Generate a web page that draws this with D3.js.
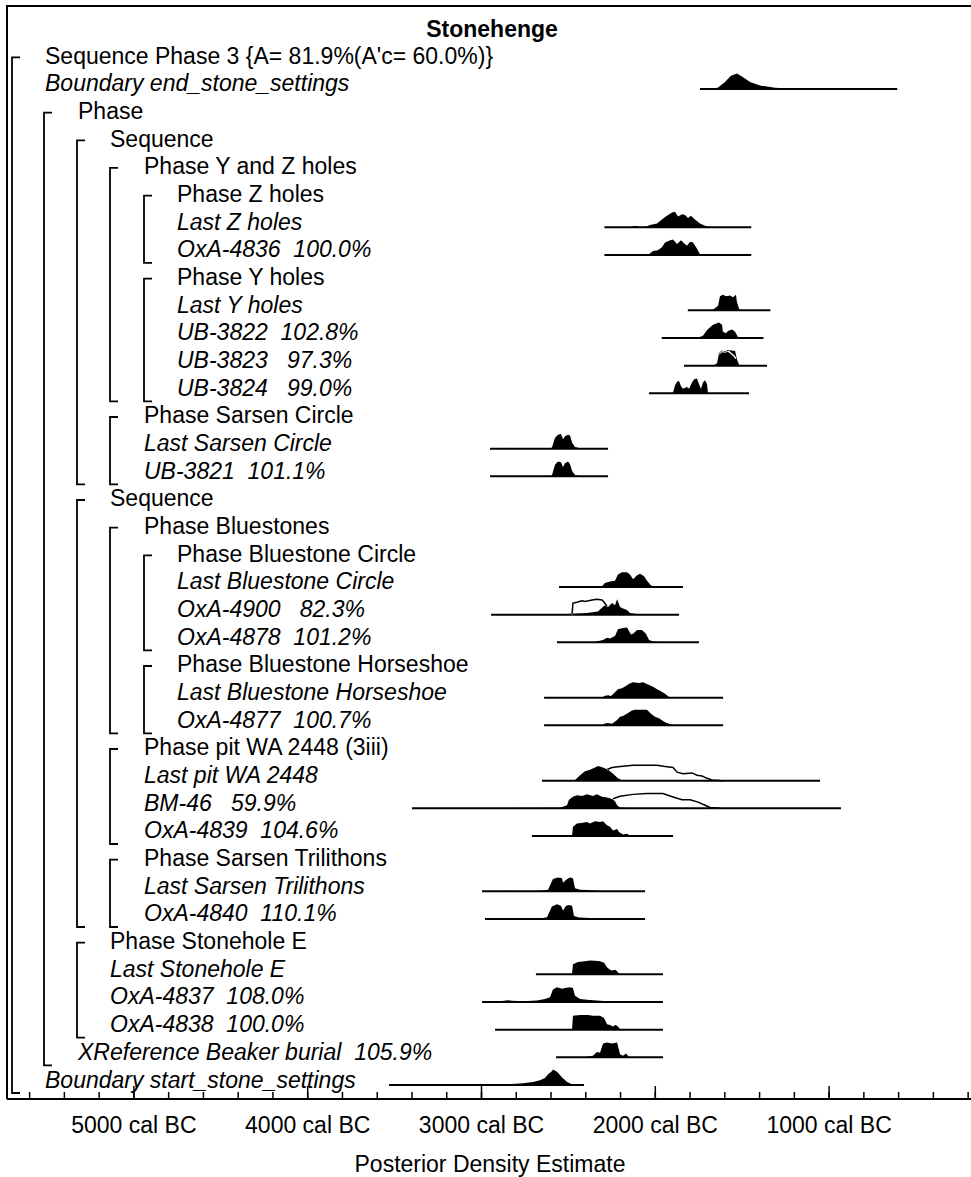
<!DOCTYPE html>
<html>
<head>
<meta charset="utf-8">
<script src="https://cdn.jsdelivr.net/npm/d3@7"></script>
<style>
  body { margin: 0; background: #fff; }
  text { font-family: "Liberation Sans", Arial, sans-serif; fill: #000; }
</style>
</head>
<body>
<div id="chart"></div>
<script>
// row labels, top to bottom
const rowLabels = [
  "Sequence Phase 3 {A= 81.9%(A'c= 60.0%)}",
  "Boundary end_stone_settings",
  "Phase",
  "Sequence",
  "Phase Y and Z holes",
  "Phase Z holes",
  "Last Z holes",
  "OxA-4836  100.0%",
  "Phase Y holes",
  "Last Y holes",
  "UB-3822  102.8%",
  "UB-3823   97.3%",
  "UB-3824   99.0%",
  "Phase Sarsen Circle",
  "Last Sarsen Circle",
  "UB-3821  101.1%",
  "Sequence",
  "Phase Bluestones",
  "Phase Bluestone Circle",
  "Last Bluestone Circle",
  "OxA-4900   82.3%",
  "OxA-4878  101.2%",
  "Phase Bluestone Horseshoe",
  "Last Bluestone Horseshoe",
  "OxA-4877  100.7%",
  "Phase pit WA 2448 (3iii)",
  "Last pit WA 2448",
  "BM-46   59.9%",
  "OxA-4839  104.6%",
  "Phase Sarsen Trilithons",
  "Last Sarsen Trilithons",
  "OxA-4840  110.1%",
  "Phase Stonehole E",
  "Last Stonehole E",
  "OxA-4837  108.0%",
  "OxA-4838  100.0%",
  "XReference Beaker burial  105.9%",
  "Boundary start_stone_settings"
];
const rowDepth = [0,0,1,2,3,4,4,4,4,4,4,4,4,3,3,3,2,3,4,4,4,4,4,4,4,3,3,3,3,3,3,3,2,2,2,2,1,0];
const headerRows = [0,2,3,4,5,8,13,16,17,18,22,25,29,32];

// [depth, first row, last row]
const brackets = [
  [0,0,37],[1,2,36],[2,3,15],[3,4,12],[4,5,7],[4,8,12],[3,13,15],
  [2,16,31],[3,17,24],[4,18,21],[4,22,24],[3,25,28],[3,29,31],[2,32,35]
];

// distributions: row, range (cal BC), posterior [cal BC, rel. density]
const distRows = [1,6,7,9,10,11,12,14,15,19,20,21,23,24,26,27,28,30,31,33,34,35,36,37];
const distRanges = [
  [1740,605],[2290,1445],[2290,1445],[1810,1335],[1960,1375],[1832,1354],[2033,1458],
  [2948,2269],[2948,2269],[2551,1838],[2942,1861],[2563,1746],[2637,1607],[2637,1607],
  [2649,1049],[3397,929],[2707,1895],[2994,2056],[2977,2056],[2684,1953],[2994,1953],
  [2919,1953],[2568,1953],[3529,2407]
];
const posteriors = [
  [[1671,0],[1636,0.1],[1596,0.45],[1562,0.85],[1527,1],[1498,0.8],[1452,0.45],[1395,0.22],[1308,0.08],[1222,0.03],[1136,0.01],[1000,0]],
  [[2131,0],[2125,0.08],[2097,0.08],[2091,0],[2051,0.03],[2028,0.15],[1987,0.25],[1959,0.5],[1930,0.75],[1901,0.95],[1884,1],[1866,0.7],[1843,0.85],[1826,0.8],[1809,0.6],[1792,0.75],[1769,0.5],[1740,0.25],[1711,0.1],[1694,0.05],[1682,0]],
  [[2039,0],[2028,0.1],[2010,0.25],[1982,0.3],[1959,0.5],[1941,0.8],[1912,0.95],[1895,1],[1872,0.7],[1849,0.95],[1832,0.75],[1815,0.6],[1797,0.85],[1780,0.8],[1757,0.4],[1740,0.05],[1734,0]],
  [[1671,0],[1665,0.03],[1636,0.3],[1625,0.9],[1608,1],[1590,0.9],[1567,0.95],[1550,0.85],[1533,1],[1527,0.5],[1515,0.1],[1510,0]],
  [[1752,0],[1746,0.05],[1723,0.15],[1700,0.5],[1682,0.7],[1665,0.85],[1642,0.95],[1631,1],[1613,0.85],[1608,0.4],[1590,0.3],[1579,0.45],[1556,0.55],[1538,0.4],[1521,0.05],[1515,0]],
  [[1671,0],[1665,0.06],[1660,0.02],[1642,0.15],[1631,0.75],[1613,0.95],[1596,0.9],[1567,1],[1538,0.95],[1527,0.4],[1515,0.05],[1510,0]],
  [[1901,0],[1895,0.05],[1884,0.5],[1872,0.75],[1861,0.8],[1849,0.45],[1838,0.3],[1815,0.4],[1803,0.3],[1786,0.7],[1774,0.9],[1757,0.95],[1746,0.6],[1734,0.3],[1723,0.7],[1711,0.85],[1700,0.6],[1694,0.05],[1688,0]],
  [[2840,0],[2833,0.05],[2826,0],[2597,0],[2591,0.1],[2574,0.7],[2557,0.9],[2540,0.95],[2528,0.6],[2517,0.8],[2499,0.9],[2488,0.85],[2476,0.4],[2459,0.1],[2430,0.03],[2402,0]],
  [[2597,0],[2591,0.1],[2574,0.75],[2557,0.95],[2540,0.9],[2528,0.6],[2517,0.85],[2499,0.95],[2488,0.8],[2476,0.35],[2459,0.08],[2430,0.02],[2402,0]],
  [[2310,0],[2304,0.05],[2287,0.25],[2258,0.35],[2229,0.4],[2212,0.8],[2189,0.95],[2160,0.95],[2143,0.8],[2125,0.5],[2102,0.75],[2085,0.85],[2062,0.7],[2045,0.4],[2022,0.1],[1999,0.03],[1982,0.05],[1970,0]],
  [[2570,0],[2563,0.03],[2505,0.05],[2390,0.1],[2327,0.2],[2304,0.45],[2287,0.6],[2269,0.5],[2246,0.75],[2229,0.6],[2217,1],[2200,0.5],[2183,0.4],[2160,0.3],[2143,0.1],[2102,0.05],[2045,0.02],[2039,0]],
  [[2350,0],[2344,0.03],[2298,0.15],[2275,0.3],[2258,0.25],[2229,0.4],[2212,0.85],[2189,0.9],[2160,0.95],[2137,0.5],[2125,0.55],[2102,0.8],[2074,0.8],[2051,0.55],[2033,0.15],[2010,0.05],[1970,0.02],[1953,0]],
  [[2298,0],[2292,0.1],[2269,0.15],[2252,0.1],[2229,0.35],[2212,0.55],[2189,0.6],[2166,0.75],[2148,0.9],[2125,1],[2091,0.95],[2068,1],[2039,0.85],[2010,0.7],[1987,0.55],[1970,0.45],[1941,0.25],[1918,0.05],[1907,0]],
  [[2298,0],[2292,0.1],[2269,0.15],[2246,0.1],[2217,0.35],[2200,0.55],[2183,0.6],[2154,0.8],[2131,0.95],[2114,1],[2045,1],[2022,0.75],[1999,0.55],[1976,0.45],[1941,0.2],[1907,0.05],[1895,0]],
  [[2465,0],[2459,0.05],[2430,0.35],[2402,0.6],[2373,0.7],[2344,0.85],[2327,0.95],[2298,0.85],[2269,0.7],[2240,0.45],[2212,0.15],[2189,0.02],[2183,0]],
  [[2885,0],[2879,0.02],[2545,0.03],[2505,0.2],[2494,0.55],[2471,0.75],[2448,0.85],[2419,0.8],[2390,0.9],[2356,0.8],[2333,0.9],[2304,0.75],[2275,0.7],[2246,0.6],[2229,0.45],[2217,0.2],[2200,0.05],[2160,0.02],[1665,0.02],[1412,0.01],[1395,0]],
  [[2482,0],[2476,0.05],[2471,0.6],[2448,0.8],[2413,0.85],[2390,0.9],[2373,0.8],[2344,0.95],[2315,0.9],[2298,0.95],[2275,0.7],[2258,0.6],[2240,0.35],[2217,0.45],[2206,0.25],[2183,0.1],[2160,0.15],[2143,0.03],[2131,0]],
  [[2851,0],[2845,0.05],[2839,0],[2684,0],[2678,0.03],[2643,0.05],[2614,0.1],[2586,0.8],[2557,0.9],[2534,0.85],[2528,0.55],[2505,0.8],[2488,0.9],[2471,0.85],[2459,0.2],[2430,0.1],[2390,0.08],[2356,0.05],[2327,0.03],[2304,0]],
  [[2845,0],[2839,0.05],[2833,0],[2690,0],[2684,0.03],[2649,0.05],[2620,0.12],[2592,0.8],[2563,0.95],[2540,0.85],[2528,0.55],[2511,0.85],[2494,0.9],[2476,0.85],[2465,0.2],[2436,0.1],[2396,0.08],[2356,0.05],[2321,0.03],[2304,0]],
  [[2482,0],[2476,0.05],[2471,0.65],[2442,0.8],[2402,0.85],[2373,0.9],[2344,0.88],[2315,0.85],[2292,0.75],[2275,0.45],[2258,0.3],[2246,0.25],[2229,0.3],[2217,0.2],[2206,0.03],[2200,0]],
  [[2897,0],[2891,0.05],[2845,0.12],[2822,0.08],[2758,0.05],[2678,0.1],[2632,0.2],[2603,0.3],[2586,0.8],[2563,0.95],[2534,0.85],[2517,0.9],[2488,0.95],[2471,0.9],[2459,0.4],[2430,0.2],[2390,0.15],[2333,0.1],[2275,0.05],[2200,0.05],[2160,0.06],[2148,0]],
  [[2482,0],[2476,0.05],[2471,0.9],[2430,0.95],[2384,0.95],[2356,0.9],[2315,0.9],[2292,0.75],[2275,0.35],[2258,0.3],[2240,0.2],[2229,0.3],[2217,0.25],[2200,0.05],[2171,0.02],[2160,0]],
  [[2396,0],[2390,0.03],[2356,0.1],[2333,0.35],[2315,0.3],[2298,0.9],[2275,0.95],[2246,0.9],[2217,0.95],[2200,0.2],[2183,0.1],[2166,0.25],[2154,0.1],[2148,0]],
  [[3012,0],[3006,0.02],[2850,0.05],[2758,0.12],[2701,0.2],[2661,0.3],[2632,0.45],[2614,0.7],[2591,0.9],[2586,1],[2563,0.85],[2534,0.5],[2505,0.2],[2476,0.05],[2459,0]]
];
// unmodelled (prior) outlines, keyed by row
const priors = {
  11: [[1631,0.75],[1613,0.92],[1596,0.88],[1579,0.95],[1562,0.8],[1544,0.62],[1533,0.45]],
  20: [[2476,0],[2471,0.75],[2448,0.8],[2419,0.9],[2402,0.85],[2361,0.95],[2333,1],[2304,0.95],[2292,0.8],[2275,0.55]],
  26: [[2275,0.72],[2246,0.85],[2212,0.9],[2125,1],[1987,1],[1941,0.92],[1895,0.85],[1872,0.55],[1838,0.45],[1786,0.5],[1757,0.35],[1728,0.3],[1700,0.15],[1671,0.05],[1625,0.01],[1608,0]],
  27: [[2240,0.62],[2200,0.78],[2125,0.9],[2045,0.95],[1953,0.95],[1912,0.8],[1872,0.65],[1843,0.55],[1797,0.55],[1751,0.4],[1711,0.2],[1682,0.05],[1642,0.02],[1625,0]]
};

// axis ticks (cal BC)
const majorTicks = [5000,4000,3000,2000,1000];
const minorTicks = d3.range(5600, 199, -200);

const W = 971, H = 1177;
const svg = d3.select("div#chart")
  .append("svg")
  .attr("width", W)
  .attr("height", H)
  .attr("viewBox", "0 0 " + W + " " + H);

const x = d3.scaleLinear().domain([5000, 1000]).range([133.4, 828.6]);
const y = d3.scaleLinear().domain([0, rowLabels.length - 1]).range([61.3, 1085]);
const h = d3.scaleLinear().domain([0, 1]).range([0, 15.5]);

const bracketX = [12, 44, 77, 110, 144];
const textX = [45, 78, 110, 144, 177];
const axisY = 1099;

// frame
svg.append("path")
  .attr("d", "M7," + axisY + "V6H" + (W + 10))
  .attr("fill", "none")
  .attr("stroke", "#000")
  .attr("stroke-width", 2);

// title
svg.append("text")
  .attr("x", 492).attr("y", 37)
  .attr("text-anchor", "middle")
  .style("font-size", "23px")
  .style("font-weight", "bold")
  .text("Stonehenge");

// labels
svg.selectAll("text.row")
  .data(rowLabels)
  .enter()
  .append("text")
  .attr("class", "row")
  .attr("x", (d, i) => textX[rowDepth[i]])
  .attr("y", (d, i) => y(i) + 2.5)
  .style("font-size", "23px")
  .style("white-space", "pre")
  .style("font-style", (d, i) => headerRows.includes(i) ? "normal" : "italic")
  .text(d => d);

// brackets
svg.selectAll("path.bracket")
  .data(brackets)
  .enter()
  .append("path")
  .attr("class", "bracket")
  .attr("fill", "none")
  .attr("stroke", "#000")
  .attr("stroke-width", 1.8)
  .attr("d", d => {
    const bx = bracketX[d[0]], t = y(d[1]) - 4, b = y(d[2]) + 8;
    return "M" + (bx + 8) + "," + t + "H" + bx + "V" + b + "H" + (bx + 8);
  });

// distributions
const dists = distRows.map((r, i) => ({
  row: r, range: distRanges[i], post: posteriors[i], prior: priors[r]
}));

const g = svg.selectAll("g.dist")
  .data(dists)
  .enter()
  .append("g")
  .attr("class", "dist")
  .attr("transform", d => "translate(0," + y(d.row) + ")");

const area = d3.area()
  .x(d => x(d[0]))
  .y0(0)
  .y1(d => -h(d[1]));

const line = d3.line()
  .x(d => x(d[0]))
  .y(d => -h(d[1]));

g.append("clipPath")
  .attr("id", d => "clip" + d.row)
  .append("path")
  .attr("d", d => area(d.post));

g.append("line")
  .attr("x1", d => x(d.range[0]))
  .attr("x2", d => x(d.range[1]))
  .attr("stroke", "#000")
  .attr("stroke-width", 2);

g.append("path")
  .attr("d", d => area(d.post))
  .attr("fill", "#000");

const gp = g.filter(d => d.prior);
gp.append("path")
  .attr("d", d => line(d.prior))
  .attr("fill", "none")
  .attr("stroke", "#000")
  .attr("stroke-width", 1.5);
gp.append("path")
  .attr("d", d => line(d.prior))
  .attr("clip-path", d => "url(#clip" + d.row + ")")
  .attr("fill", "none")
  .attr("stroke", "#fff")
  .attr("stroke-width", 1.5);

// axis: minor and major ticks pointing up
svg.append("g")
  .attr("transform", "translate(0," + axisY + ")")
  .call(d3.axisBottom(x).tickValues(minorTicks).tickSize(-7).tickFormat(""))
  .call(a => a.select(".domain").remove())
  .call(a => a.selectAll("line").attr("stroke-width", 1.5));

svg.append("g")
  .attr("transform", "translate(0," + axisY + ")")
  .call(d3.axisBottom(x).tickValues(majorTicks).tickSize(-13).tickPadding(18)
    .tickFormat(d => d + " cal BC"))
  .call(a => a.select(".domain").remove())
  .call(a => a.selectAll("line").attr("stroke-width", 1.5))
  .call(a => a.selectAll("text")
    .style("font-family", "'Liberation Sans', Arial, sans-serif")
    .style("font-size", "23px")
    .attr("fill", "#000"));

svg.append("line")
  .attr("x1", 7).attr("x2", W)
  .attr("y1", axisY).attr("y2", axisY)
  .attr("stroke", "#000")
  .attr("stroke-width", 2);

svg.append("text")
  .attr("x", 490).attr("y", 1172)
  .attr("text-anchor", "middle")
  .style("font-size", "23px")
  .text("Posterior Density Estimate");
</script>
</body>
</html>
